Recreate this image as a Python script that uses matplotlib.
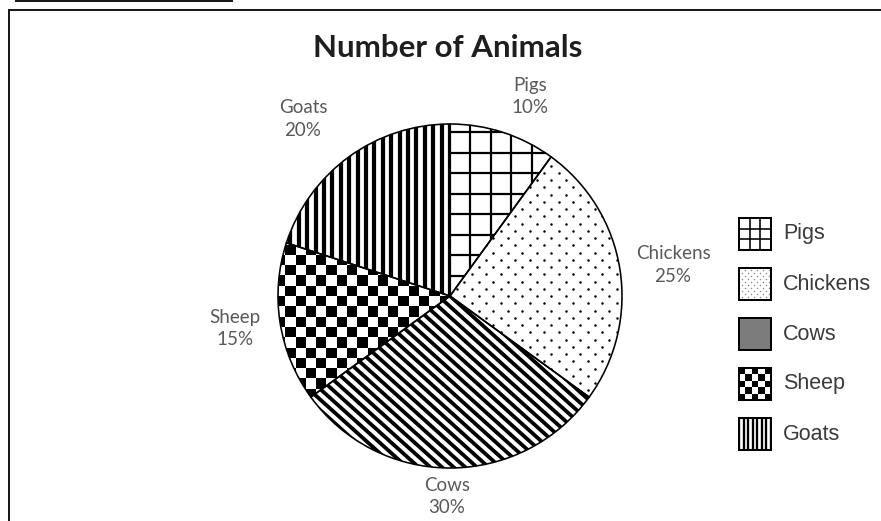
import numpy as np
import matplotlib
matplotlib.use('Agg')
import matplotlib.pyplot as plt
from matplotlib.collections import LineCollection, PatchCollection
from matplotlib.patches import Rectangle

# chart data
labels = ['Pigs', 'Chickens', 'Cows', 'Sheep', 'Goats']
shares = [10, 25, 30, 15, 20]
fills = ['grid', 'dots', 'diag', 'checker', 'vstripe']
title = 'Number of Animals'

# where each data label sits (pie units, radius = 1)
label_xy = [(0.465, 1.16), (1.297, 0.18), (-0.017, -1.165),
            (-1.25, -0.19), (-0.855, 1.03)]

W, H, DPI = 881, 521, 100
PT = 72 / DPI          # points per pixel
CX, CY, R = 450, 296, 172   # pie centre / radius, pixels from top-left


def add_lines(ax, clip, segs, lw_px, color='black', z=2):
    lc = LineCollection(segs, colors=color, linewidths=lw_px * PT,
                        capstyle='butt', zorder=z)
    ax.add_collection(lc, autolim=False)
    lc.set_clip_path(clip)


def grid_fill(ax, clip, box, org, step, lw):
    x0, y0, x1, y1 = box
    xs = org[0] + step * np.arange(np.floor((x0 - org[0]) / step), np.ceil((x1 - org[0]) / step) + 1)
    ys = org[1] + step * np.arange(np.floor((y0 - org[1]) / step), np.ceil((y1 - org[1]) / step) + 1)
    segs = [[(x, y0), (x, y1)] for x in xs] + [[(x0, y), (x1, y)] for y in ys]
    add_lines(ax, clip, segs, lw)


def stripe_fill(ax, clip, box, org, angle, period, lw):
    x0, y0, x1, y1 = box
    a = np.radians(angle)
    d = np.array([np.cos(a), np.sin(a)])
    n = np.array([-np.sin(a), np.cos(a)])
    corners = np.array([(x0, y0), (x0, y1), (x1, y0), (x1, y1)]) - np.array(org)
    proj = corners @ n
    ks = np.arange(np.floor(proj.min() / period), np.ceil(proj.max() / period) + 1)
    L = np.hypot(x1 - x0, y1 - y0)
    segs = []
    for k in ks:
        c = np.array(org) + k * period * n
        segs.append([c - L * d, c + L * d])
    add_lines(ax, clip, segs, lw)


def checker_fill(ax, clip, box, org, q):
    x0, y0, x1, y1 = box
    i0, i1 = int(np.floor((x0 - org[0]) / q)), int(np.ceil((x1 - org[0]) / q))
    j0, j1 = int(np.floor((y0 - org[1]) / q)), int(np.ceil((y1 - org[1]) / q))
    sq = [Rectangle((org[0] + i * q, org[1] + j * q), q, q)
          for i in range(i0, i1) for j in range(j0, j1) if (i + j) % 2 == 0]
    pc = PatchCollection(sq, facecolor='black', edgecolor='none', zorder=2)
    ax.add_collection(pc, autolim=False)
    pc.set_clip_path(clip)


def dot_fill(ax, clip, box, org, step, d_px, color='black'):
    x0, y0, x1, y1 = box
    h = step / 2
    pts = []
    for j in range(int(np.floor((y0 - org[1]) / h)), int(np.ceil((y1 - org[1]) / h)) + 1):
        shift = h if j % 2 else 0
        for i in range(int(np.floor((x0 - org[0]) / step)) - 1, int(np.ceil((x1 - org[0]) / step)) + 1):
            pts.append((org[0] + i * step + shift, org[1] + j * h))
    pts = np.array(pts)
    sc = ax.scatter(pts[:, 0], pts[:, 1], s=(d_px * PT) ** 2, c=color,
                    linewidths=0, zorder=2)
    sc.set_clip_path(clip)


def pattern(ax, clip, kind, box, org, u, small=False):
    # u = axis units per pixel
    if kind == 'grid':
        grid_fill(ax, clip, box, org, (32 / 3 if small else 20.5) * u, 1.6 if small else 2.2)
    elif kind == 'dots':
        if small:
            dot_fill(ax, clip, box, org, 6 * u, 1.5, color='#8a8a8a')
        else:
            dot_fill(ax, clip, box, org, 14.5 * u, 2.5)
    elif kind == 'diag':
        if small:
            clip.set_facecolor('#7c7c7c')
        else:
            stripe_fill(ax, clip, box, org, -42, 7.8 * u, 3.8)
    elif kind == 'checker':
        checker_fill(ax, clip, box, org, (32 / 5 if small else 10.3) * u)
    elif kind == 'vstripe':
        stripe_fill(ax, clip, box, org, 90, (32 / 7 if small else 8.4) * u,
                    2.3 if small else 4.2)


fig = plt.figure(figsize=(W / DPI, H / DPI), dpi=DPI)

# full-figure axes in pixel units for frame and legend
bg = fig.add_axes([0, 0, 1, 1])
bg.set_xlim(0, W)
bg.set_ylim(0, H)
bg.axis('off')

frame_kw = dict(color='#1a1a1a', linewidth=2 * PT, solid_capstyle='butt')
bg.plot([8, W], [H - 9.5, H - 9.5], **frame_kw)
bg.plot([8.5, 8.5], [0, H - 8.5], **frame_kw)
bg.plot([15, 233], [H - 0.8, H - 0.8], **frame_kw)

ax = fig.add_axes([(CX - R) / W, (H - CY - R) / H, 2 * R / W, 2 * R / H])

wedges, _ = ax.pie(shares, radius=1, startangle=90, counterclock=False,
                   colors=['white'] * len(shares),
                   wedgeprops=dict(linewidth=0, zorder=1))
for w, kind in zip(wedges, fills):
    pattern(ax, w, kind, (-1, -1, 1, 1), (0, 0), 1 / R)

outline, _ = ax.pie(shares, radius=1, startangle=90, counterclock=False,
                    wedgeprops=dict(fill=False, edgecolor='black',
                                    linewidth=1.6 * PT, zorder=5))

for (x, y), name, v in zip(label_xy, labels, shares):
    ax.text(x, y, f'{name}\n{v}%', ha='center', va='center', fontsize=13.5,
            family='Lato', color='#595959', linespacing=1.4)

ax.set_xlim(-1, 1)
ax.set_ylim(-1, 1)
ax.set_aspect('equal')
ax.axis('off')

fig.text(448 / W, 1 - 48 / H, title, ha='center', va='center',
         fontsize=22.5, fontweight='bold', family='Lato', color='#1e1e1e')

# legend
for i, (name, kind) in enumerate(zip(labels, fills)):
    yc = H - (234 + 50 * i)
    x0, y0, s = 739, yc - 16, 32
    base = Rectangle((x0, y0), s, s, facecolor='white', edgecolor='none', zorder=1)
    bg.add_patch(base)
    pattern(bg, base, kind, (x0, y0, x0 + s, y0 + s), (x0, y0), 1, small=True)
    bg.add_patch(Rectangle((x0, y0), s, s, facecolor='none', edgecolor='black',
                           linewidth=2 * PT, zorder=4))
    bg.text(783, yc, name, ha='left', va='center', fontsize=15.5,
            family='Liberation Sans', color='#3a3a3a')

fig.savefig('out.png', dpi=DPI)
